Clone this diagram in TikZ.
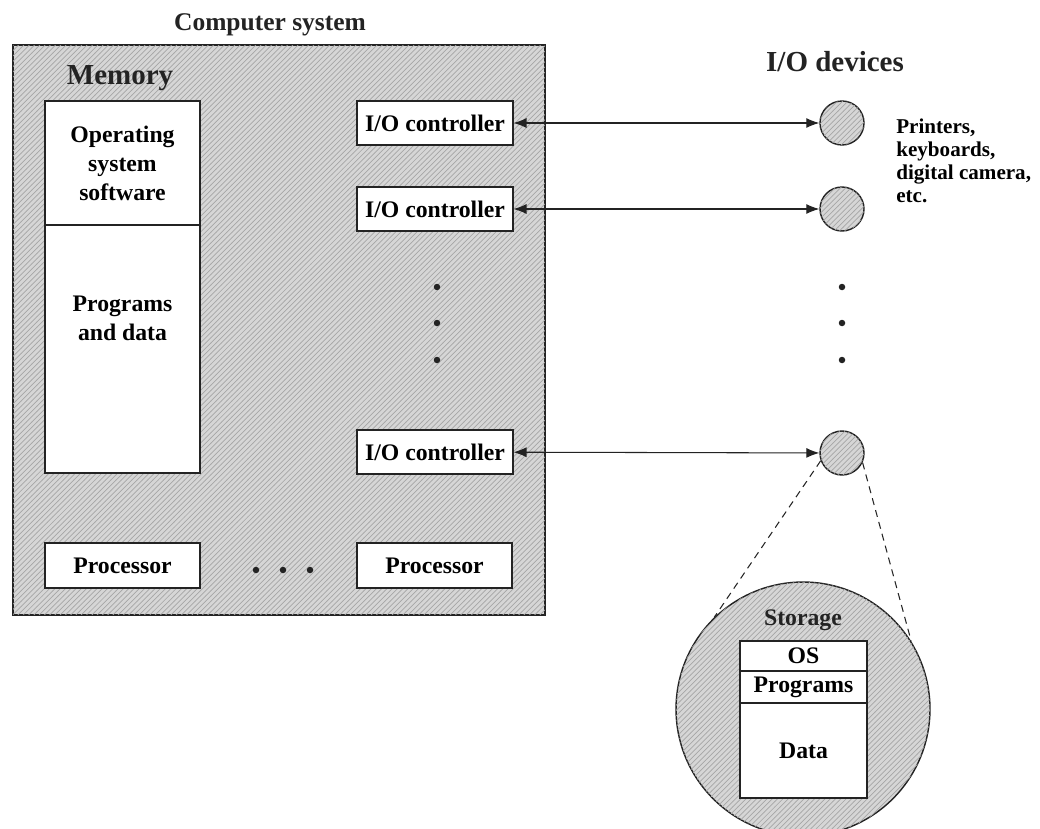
\documentclass[tikz,border=0pt]{standalone}
\usepackage{fontspec}
\setmainfont{Liberation Serif}
\usetikzlibrary{arrows.meta,patterns}
\definecolor{hatch}{RGB}{214,214,214}
\definecolor{ink}{RGB}{35,35,35}
\tikzset{
  >={Latex[length=2.6mm,width=2mm]},
  hatched/.style={fill=hatch,postaction={pattern=north east lines,pattern color=gray!70}},
  unit/.style={draw=ink,fill=white,semithick,minimum width=#1,inner sep=0pt,align=center,
    font=\fontsize{13.5}{16}\selectfont\bfseries},
  unit/.default=3.1cm,
  device/.style={circle,draw=ink,thick,hatched,minimum size=#1,inner sep=0pt},
  device/.default=0.88cm,
  heading/.style={font=\fontsize{#1}{#1}\selectfont\bfseries,text=ink},
  heading/.default=16.5,
  link/.style={<->,draw=ink,semithick},
  zoomline/.style={draw=ink,semithick,dash pattern=on 4pt off 3pt},
}
\begin{document}
\begin{tikzpicture}[x=0.02cm,y=-0.02cm]
  \useasboundingbox (0,0) rectangle (1040,828);
  % computer system
  \node[draw=ink,thick,hatched,minimum width=10.64cm,minimum height=11.4cm] (sys) at (279,330) {};
  \node[heading=14.5] (systitle) at (270,25) {Computer system};
  \node[heading] (memtitle) at (120,78) {Memory};
  \node[unit,minimum height=2.48cm,font=\fontsize{13.5}{16.5}\selectfont\bfseries] (os) at (122.5,163) {Operating\\system\\software};
  \node[unit,minimum height=4.96cm] (prog) at (122.5,349) {};
  \node[font=\fontsize{13.5}{16.5}\selectfont\bfseries,align=center] (progtxt) at (122.5,318) {Programs\\and data};
  \node[unit=3.12cm,minimum height=0.88cm] (io1) at (435,123) {I/O controller};
  \node[unit=3.12cm,minimum height=0.88cm] (io2) at (435,209) {I/O controller};
  \node[unit=3.12cm,minimum height=0.88cm] (io3) at (435,452) {I/O controller};
  \node[unit,minimum height=0.9cm] (cpu1) at (122.5,565.5) {Processor};
  \node[unit,minimum height=0.9cm] (cpu2) at (434.5,565.5) {Processor};
  \foreach \y in {287,323,360} \fill[ink] (437,\y) circle (0.065cm);
  \foreach \x in {256,283,310} \fill[ink] (\x,570) circle (0.065cm);
  % devices
  \node[heading] (devtitle) at (835,62) {I/O devices};
  \node[device] (dev1) at (842,123) {};
  \node[device] (dev2) at (842,209) {};
  \node[device] (dev3) at (842,453) {};
  \foreach \y in {287,323,360} \fill[ink] (842,\y) circle (0.065cm);
  \node[anchor=north west,align=left,inner sep=0pt,font=\fontsize{12}{13}\selectfont\bfseries] (devtxt) at (896,119) {Printers,\\keyboards,\\digital camera,\\etc.};
  \draw[link] (io1) -- (dev1);
  \draw[link] (io2) -- (dev2);
  \draw[link] (io3) -- (dev3);
  % storage
  \node[device=5.08cm] (store) at (803,709) {};
  \draw[zoomline] (dev3.200) -- (store.134);
  \draw[zoomline] (dev3.335) -- (store.32);
  \node[heading=13.5] (storetitle) at (803,620) {Storage};
  \node[unit=2.54cm,minimum height=0.6cm] (sos) at (803.5,656) {OS};
  \node[unit=2.54cm,minimum height=0.64cm] (sprog) at (803.5,687) {Programs};
  \node[unit=2.54cm,minimum height=1.9cm] (sdata) at (803.5,750.5) {Data};
\end{tikzpicture}
\end{document}
